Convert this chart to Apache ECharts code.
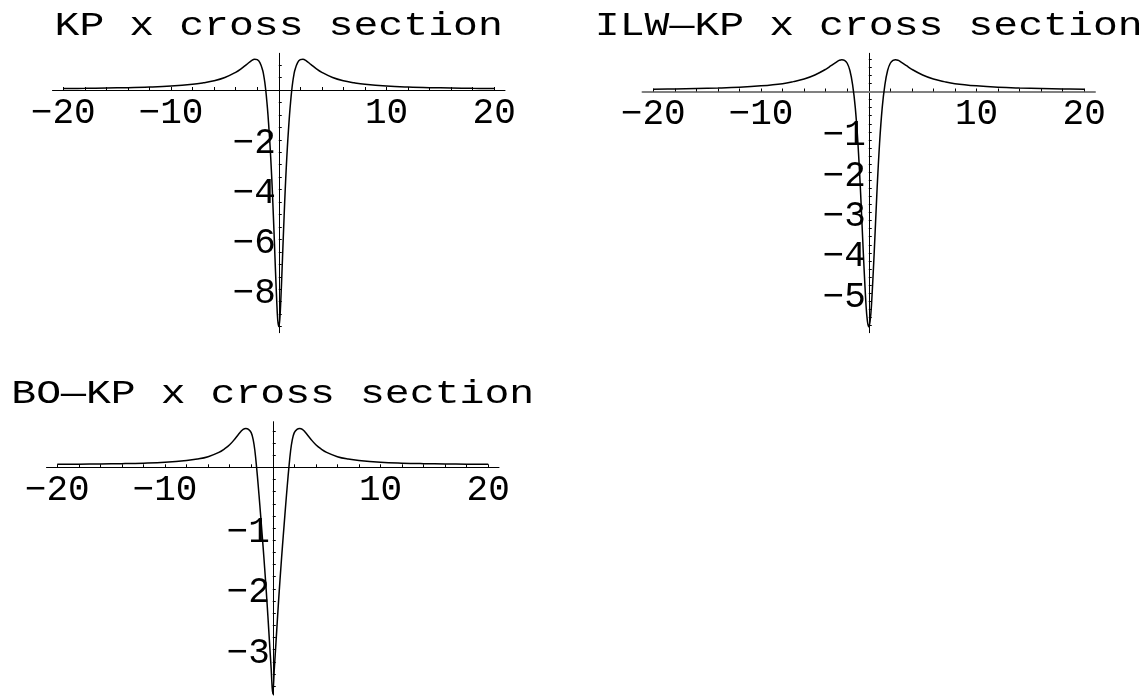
<!DOCTYPE html>
<html>
<head>
<meta charset="utf-8">
<script src="https://cdn.jsdelivr.net/npm/echarts@6/dist/echarts.min.js"></script>
<style>
  html, body { margin: 0; padding: 0; background: #ffffff; }
  #chart { width: 1146px; height: 699px; }
</style>
</head>
<body>
<div id="chart"></div>
<script>
// Panel titles
const titles = ['KP x cross section', 'ILW\u2014KP x cross section', 'BO\u2014KP x cross section'];

// KP lump, y = 0 cross section
const kpX = [-20, -18, -16, -14, -12, -10, -8, -7, -6, -5, -4, -3.5, -3, -2.5, -2.25, -2, -1.75, -1.5, -1.4, -1.3, -1.2, -1.1, -1, -0.9, -0.8, -0.7, -0.6, -0.5, -0.4, -0.3, -0.2, -0.1,
  0, 0.1, 0.2, 0.3, 0.4, 0.5, 0.6, 0.7, 0.8, 0.9, 1, 1.1, 1.2, 1.3, 1.4, 1.5, 1.75, 2, 2.25, 2.5, 3, 3.5, 4, 5, 6, 7, 8, 10, 12, 14, 16, 18, 20];
const kpY = [0.06, 0.068, 0.08, 0.095, 0.12, 0.16, 0.23, 0.29, 0.37, 0.50, 0.71, 0.85, 1.02, 1.19, 1.24, 1.22, 1.1, 0.8, 0.6, 0.33, -0.03, -0.48, -1.0, -1.62, -2.3, -3.1, -4.0, -5.05, -6.15, -7.3, -8.35, -9.2,
  -9.5, -9.2, -8.35, -7.3, -6.15, -5.05, -4.0, -3.1, -2.3, -1.62, -1.0, -0.48, -0.03, 0.33, 0.6, 0.8, 1.1, 1.22, 1.24, 1.19, 1.02, 0.85, 0.71, 0.50, 0.37, 0.29, 0.23, 0.16, 0.12, 0.095, 0.08, 0.068, 0.06];

// ILW-KP lump, y = 0 cross section
const ilwX = [-20, -18, -16, -14, -12, -10, -8, -7, -6, -5, -4, -3.5, -3, -2.75, -2.5, -2.25, -2, -1.75, -1.5, -1.25, -1, -0.75, -0.5, -0.25, -0.125,
  0, 0.125, 0.25, 0.5, 0.75, 1, 1.25, 1.5, 1.75, 2, 2.25, 2.5, 2.75, 3, 3.5, 4, 5, 6, 7, 8, 10, 12, 14, 16, 18, 20];
const ilwY = [0.057, 0.063, 0.072, 0.085, 0.105, 0.14, 0.195, 0.245, 0.31, 0.41, 0.55, 0.64, 0.73, 0.77, 0.79, 0.77, 0.70, 0.52, 0.17, -0.40, -1.30, -2.55, -4.03, -5.31, -5.69,
  -5.83, -5.69, -5.31, -4.03, -2.55, -1.30, -0.40, 0.17, 0.52, 0.70, 0.77, 0.79, 0.77, 0.73, 0.64, 0.55, 0.41, 0.31, 0.245, 0.195, 0.14, 0.105, 0.085, 0.072, 0.063, 0.057];

// BO-KP lump, y = 0 cross section
const boX = [-20, -18, -16, -14, -12, -10, -8, -7, -6, -5, -4.5, -4, -3.5, -3, -2.75, -2.5, -2.25, -2, -1.8, -1.65, -1.5, -1.35, -1.2, -1.05, -0.9, -0.75, -0.6, -0.45, -0.3, -0.15,
  0, 0.15, 0.3, 0.45, 0.6, 0.75, 0.9, 1.05, 1.2, 1.35, 1.5, 1.65, 1.8, 2, 2.25, 2.5, 2.75, 3, 3.5, 4, 4.5, 5, 6, 7, 8, 10, 12, 14, 16, 18, 20];
const boY = [0.05, 0.052, 0.055, 0.06, 0.068, 0.082, 0.11, 0.135, 0.175, 0.245, 0.30, 0.37, 0.47, 0.58, 0.625, 0.64, 0.625, 0.57, 0.44, 0.26, 0.0, -0.30, -0.62, -0.96, -1.30, -1.66, -2.04, -2.45, -2.88, -3.30,
  -3.73, -3.30, -2.88, -2.45, -2.04, -1.66, -1.30, -0.96, -0.62, -0.30, 0.0, 0.26, 0.44, 0.57, 0.625, 0.64, 0.625, 0.58, 0.47, 0.37, 0.30, 0.245, 0.175, 0.135, 0.11, 0.082, 0.068, 0.06, 0.055, 0.052, 0.05];

// Axis ticks and labels
const xLabelValues = [-20, -10, 10, 20];
const xLabelTexts = ['\u221220', '\u221210', '10', '20'];
const xTickValues = [-20, -18, -16, -14, -12, -10, -8, -6, -4, -2, 2, 4, 6, 8, 10, 12, 14, 16, 18, 20];

const kpLabelValues = [-2, -4, -6, -8];
const kpLabelTexts = ['\u22122', '\u22124', '\u22126', '\u22128'];
const kpTickValues = [1, 0.5, -0.5, -1, -1.5, -2, -2.5, -3, -3.5, -4, -4.5, -5, -5.5, -6, -6.5, -7, -7.5, -8, -8.5, -9, -9.5];

const ilwLabelValues = [-1, -2, -3, -4, -5];
const ilwLabelTexts = ['\u22121', '\u22122', '\u22123', '\u22124', '\u22125'];
const ilwTickValues = [0.8, 0.6, 0.4, 0.2, -0.2, -0.4, -0.6, -0.8, -1, -1.2, -1.4, -1.6, -1.8, -2, -2.2, -2.4, -2.6, -2.8, -3, -3.2, -3.4, -3.6, -3.8, -4, -4.2, -4.4, -4.6, -4.8, -5, -5.2, -5.4, -5.6, -5.8];

const boLabelValues = [-1, -2, -3];
const boLabelTexts = ['\u22121', '\u22122', '\u22123'];
const boTickValues = [0.6, 0.4, 0.2, -0.2, -0.4, -0.6, -0.8, -1, -1.2, -1.4, -1.6, -1.8, -2, -2.2, -2.4, -2.6, -2.8, -3, -3.2, -3.4, -3.6];

const FONT = "'Liberation Mono', 'Courier New', monospace";

const panels = [
  { xs: kpX, ys: kpY, yLabels: kpLabelValues, yTexts: kpLabelTexts, yTicks: kpTickValues,
    left: 52.5, top: 53.3, width: 452.5, height: 279.4, yMin: -9.747, yMax: 1.474, axisColor: '#000', axisWidth: 1, titleMid: 26 },
  { xs: ilwX, ys: ilwY, yLabels: ilwLabelValues, yTexts: ilwLabelTexts, yTicks: ilwTickValues,
    left: 642.5, top: 53.3, width: 452.5, height: 279.4, yMin: -5.979, yMax: 0.947, axisColor: '#808080', axisWidth: 2, titleMid: 26 },
  { xs: boX, ys: boY, yLabels: boLabelValues, yTexts: boLabelTexts, yTicks: boTickValues,
    left: 46.5, top: 421.7, width: 452.5, height: 273.3, yMin: -3.745, yMax: 0.75, axisColor: '#000', axisWidth: 1, titleMid: 394 }
];
const X_MIN = -21, X_MAX = 21;

// pixel distance from the grid edge to the zero line of the other axis
function zeroOffsets(p) {
  const fromLeft = p.width * (0 - X_MIN) / (X_MAX - X_MIN);
  const fromBottom = p.height * (0 - p.yMin) / (p.yMax - p.yMin);
  return { fromLeft, fromBottom };
}

function labelFor(values, texts) {
  return function (v) {
    for (let i = 0; i < values.length; i++) {
      if (Math.abs(values[i] - v) < 1e-9) return texts[i];
    }
    return '';
  };
}

const option = {
  animation: false,
  backgroundColor: '#ffffff',
  // panel titles: wide monospace lettering, slightly compressed vertically
  graphic: panels.map((p, i) => ({
    type: 'text',
    x: p.left + zeroOffsets(p).fromLeft,
    y: p.titleMid,
    scaleY: 0.82,
    silent: true,
    style: {
      text: titles[i], x: 0, y: 0,
      fontFamily: FONT, fontSize: 41.5, fill: '#000',
      align: 'center', verticalAlign: 'middle'
    }
  })),
  grid: panels.map(p => ({ left: p.left, top: p.top, width: p.width, height: p.height, containLabel: false })),
  xAxis: panels.map((p, i) => ({
    type: 'value', gridIndex: i, min: X_MIN, max: X_MAX, position: 'bottom',
    offset: -zeroOffsets(p).fromBottom,
    splitLine: { show: false },
    axisLine: { show: true, onZero: false, lineStyle: { color: p.axisColor, width: p.axisWidth } },
    axisTick: { show: true, inside: true, length: 3, customValues: xTickValues, lineStyle: { color: '#000', width: 1 } },
    axisLabel: { show: true, customValues: xLabelValues, formatter: labelFor(xLabelValues, xLabelTexts),
      margin: 5, fontFamily: FONT, fontSize: 36, color: '#000' }
  })),
  yAxis: panels.map((p, i) => ({
    type: 'value', gridIndex: i, min: p.yMin, max: p.yMax, position: 'left',
    offset: -zeroOffsets(p).fromLeft,
    splitLine: { show: false },
    axisLine: { show: true, onZero: false, lineStyle: { color: '#000', width: 1 } },
    axisTick: { show: true, inside: true, length: 3, customValues: p.yTicks, lineStyle: { color: '#000', width: 1 } },
    axisLabel: { show: true, customValues: p.yLabels, formatter: labelFor(p.yLabels, p.yTexts),
      margin: 3, verticalAlign: 'top', lineHeight: 8, fontFamily: FONT, fontSize: 36, color: '#000' }
  })),
  series: panels.map((p, i) => ({
    type: 'line', xAxisIndex: i, yAxisIndex: i,
    data: p.xs.map((x, k) => [x, p.ys[k]]),
    showSymbol: false, smooth: 0.4, clip: false,
    lineStyle: { color: '#000', width: 1.5 }
  }))
};

const chart = echarts.init(document.getElementById('chart'), null, { renderer: 'canvas' });
chart.setOption(option);
</script>
</body>
</html>
